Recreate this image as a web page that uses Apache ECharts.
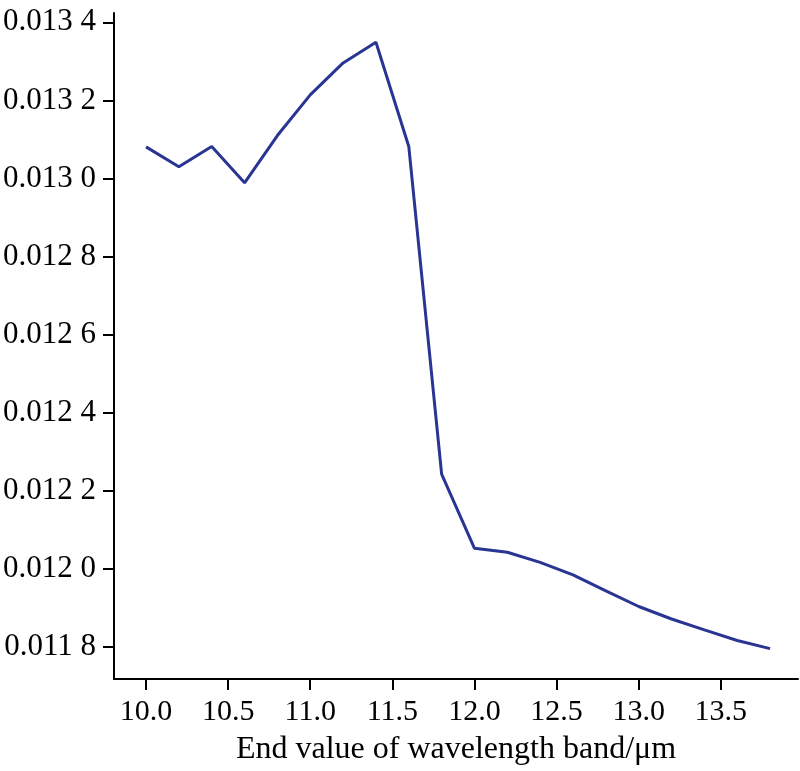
<!DOCTYPE html>
<html>
<head>
<meta charset="utf-8">
<style>html,body{margin:0;padding:0;background:#fff}#c{width:800px;height:771px}</style>
<script src="https://cdn.jsdelivr.net/npm/echarts@6/dist/echarts.min.js"></script>
</head>
<body>
<div id="c"></div>
<script>
const wavelengthEnd = [10.0, 10.2, 10.4, 10.6, 10.8, 11.0, 11.2, 11.4, 11.6, 11.8, 12.0, 12.2, 12.4, 12.6, 12.8, 13.0, 13.2, 13.4, 13.6, 13.8];
const values = [0.013081, 0.013030, 0.013082, 0.012989, 0.013110, 0.013214, 0.013296, 0.013349, 0.013082, 0.012243, 0.012053, 0.012043, 0.012017, 0.011985, 0.011944, 0.011904, 0.011872, 0.011844, 0.011817, 0.011796];
const xTicks = [10.0, 10.5, 11.0, 11.5, 12.0, 12.5, 13.0, 13.5];
const yTicks = [0.0118, 0.0120, 0.0122, 0.0124, 0.0126, 0.0128, 0.0130, 0.0132, 0.0134];
const xTitle = 'End value of wavelength band/\u03bcm';

const font = '"Liberation Serif", "Times New Roman", serif';
const chart = echarts.init(document.getElementById('c'));
chart.setOption({
  animation: false,
  grid: {left: 114, top: 13, right: 2, bottom: 90, containLabel: false},
  xAxis: {
    type: 'value', min: 9.805, max: 13.97,
    name: xTitle, nameLocation: 'middle', nameGap: 55,
    nameTextStyle: {fontFamily: font, fontSize: 32, color: '#000'},
    axisLine: {show: true, lineStyle: {color: '#000', width: 2}},
    axisTick: {show: true, length: 11, lineStyle: {color: '#000', width: 2}, customValues: xTicks},
    axisLabel: {customValues: xTicks, fontFamily: font, fontSize: 30, color: '#000', margin: 18,
      formatter: v => v.toFixed(1)},
    splitLine: {show: false}
  },
  yAxis: {
    type: 'value', min: 0.0117183, max: 0.0134238,
    axisLine: {show: true, lineStyle: {color: '#000', width: 2}},
    axisTick: {show: true, length: 11, lineStyle: {color: '#000', width: 2}, customValues: yTicks},
    axisLabel: {customValues: yTicks, fontFamily: font, fontSize: 31, color: '#000', margin: 18,
      formatter: v => { const s = v.toFixed(4); return s.slice(0, 5) + ' ' + s.slice(5); }},
    splitLine: {show: false}
  },
  series: [{
    type: 'line',
    data: wavelengthEnd.map((x, i) => [x, values[i]]),
    showSymbol: false,
    lineStyle: {color: '#283593', width: 3},
    itemStyle: {color: '#283593'}
  }]
});
</script>
</body>
</html>
